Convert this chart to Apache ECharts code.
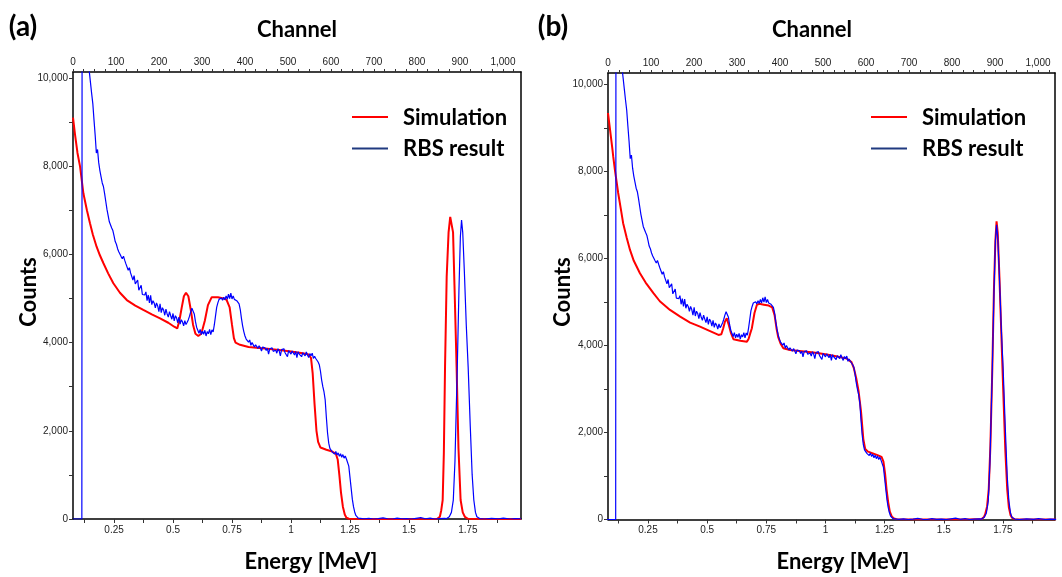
<!DOCTYPE html>
<html><head><meta charset="utf-8">
<script src="https://cdn.jsdelivr.net/npm/echarts@6/dist/echarts.min.js"></script>
<style>html,body{margin:0;padding:0;background:#fff}#c{width:1062px;height:577px}</style>
</head><body><div id="c"></div>
<script>
// ---- data (energy MeV, counts) ----
const simA = [[0.076,9100],[0.085,8700],[0.095,8300],[0.106,7990],[0.12,7385],[0.135,7000],[0.148,6705],[0.16,6450],[0.176,6175],[0.19,5980],[0.205,5800],[0.225,5570],[0.247,5345],[0.275,5130],[0.304,4965],[0.34,4840],[0.374,4740],[0.41,4640],[0.445,4550],[0.48,4450],[0.505,4360],[0.518,4320],[0.527,4500],[0.537,4800],[0.546,5050],[0.555,5130],[0.565,5050],[0.575,4750],[0.585,4400],[0.595,4200],[0.607,4150],[0.62,4200],[0.635,4500],[0.648,4850],[0.664,5030],[0.69,5030],[0.715,5000],[0.727,4970],[0.74,4800],[0.75,4400],[0.758,4100],[0.765,4000],[0.784,3950],[0.82,3900],[0.9,3860],[0.95,3830],[1.0,3800],[1.05,3760],[1.075,3730],[1.085,3650],[1.092,3300],[1.1,2600],[1.108,2000],[1.115,1750],[1.125,1620],[1.15,1570],[1.175,1530],[1.19,1480],[1.198,1350],[1.205,1000],[1.212,600],[1.22,280],[1.228,100],[1.235,30],[1.245,5],[1.4,2],[1.62,5],[1.631,50],[1.637,200],[1.643,430],[1.648,1500],[1.653,3450],[1.66,5500],[1.668,6500],[1.675,6850],[1.681,6860],[1.687,6500],[1.693,5300],[1.702,3450],[1.71,1600],[1.719,430],[1.728,150],[1.737,50],[1.75,5],[1.975,2]];
const simB = [[0.081,9350],[0.09,8950],[0.1,8500],[0.103,8350],[0.11,8050],[0.124,7510],[0.135,7150],[0.145,6815],[0.16,6480],[0.174,6200],[0.19,5950],[0.216,5665],[0.24,5450],[0.273,5205],[0.3,5020],[0.343,4820],[0.386,4667],[0.428,4530],[0.47,4436],[0.51,4340],[0.548,4245],[0.56,4260],[0.568,4400],[0.575,4550],[0.583,4630],[0.59,4500],[0.6,4300],[0.611,4146],[0.64,4110],[0.668,4091],[0.675,4150],[0.682,4280],[0.689,4400],[0.7,4750],[0.71,4935],[0.72,4960],[0.74,4940],[0.76,4920],[0.775,4880],[0.785,4700],[0.793,4400],[0.8,4200],[0.81,4050],[0.822,3940],[0.85,3900],[0.9,3870],[0.95,3840],[1.0,3800],[1.05,3750],[1.09,3700],[1.11,3620],[1.12,3480],[1.13,3250],[1.14,2950],[1.15,2500],[1.16,1850],[1.168,1620],[1.18,1560],[1.2,1520],[1.22,1480],[1.237,1440],[1.245,1330],[1.252,1050],[1.258,700],[1.265,400],[1.272,180],[1.28,70],[1.29,25],[1.3,8],[1.35,2],[1.6,2],[1.66,10],[1.67,60],[1.675,120],[1.683,300],[1.69,700],[1.697,1700],[1.705,3450],[1.712,5300],[1.718,6400],[1.723,6860],[1.728,6600],[1.735,5600],[1.743,4300],[1.751,3000],[1.76,1600],[1.768,700],[1.775,280],[1.782,100],[1.79,30],[1.8,8],[1.975,2]];
const rbs = [[0.076,0],[0.1135,0],[0.1145,11000],[0.140,10400],
[0.145,10150],[0.150,9900],[0.155,9650],[0.160,9420],[0.165,9050],[0.170,8700],[0.175,8300],[0.180,8380],[0.185,8080],[0.190,7900],
[0.195,7760],[0.200,7620],[0.205,7540],[0.210,7380],[0.215,7200],[0.220,7020],[0.225,6880],[0.230,6740],[0.235,6760],[0.240,6600],
[0.245,6540],[0.250,6420],[0.255,6290],[0.260,6230],[0.265,6130],[0.270,6060],[0.275,6100],[0.280,5950],[0.285,5900],[0.290,5960],
[0.295,5870],[0.300,5790],[0.305,5760],[0.310,5640],[0.315,5700],[0.320,5580],[0.325,5610],[0.330,5420],[0.335,5520],[0.340,5330],
[0.345,5340],[0.350,5420],[0.355,5190],[0.360,5230],[0.365,5300],[0.370,5090],[0.375,5130],[0.380,5080],[0.385,5150],[0.390,4950],
[0.395,5080],[0.400,4900],[0.405,5070],[0.410,4860],[0.415,4950],[0.420,4900],[0.425,4790],[0.430,4900],[0.435,4830],[0.440,4700],
[0.445,4880],[0.450,4680],[0.455,4790],[0.460,4740],[0.465,4620],[0.470,4760],[0.475,4650],[0.480,4580],[0.485,4700],[0.490,4610],
[0.495,4530],[0.500,4660],[0.505,4490],[0.510,4610],[0.515,4560],[0.520,4450],[0.525,4580],[0.530,4420],[0.535,4520],[0.540,4470],
[0.545,4380],[0.550,4500],[0.555,4410],[0.560,4460],[0.565,4520],[0.570,4600],[0.575,4700],[0.580,4780],[0.585,4740],[0.590,4650],
[0.595,4480],[0.600,4350],[0.605,4280],[0.610,4210],[0.615,4300],[0.620,4180],[0.625,4260],[0.630,4190],[0.635,4280],[0.640,4150],
[0.645,4250],[0.650,4200],[0.655,4300],[0.660,4180],[0.665,4290],[0.670,4240],[0.675,4400],[0.680,4600],[0.685,4800],[0.690,4900],
[0.695,4980],[0.700,4950],[0.705,5010],[0.710,4960],[0.715,5030],[0.720,4970],[0.725,5060],[0.730,4980],[0.735,5100],[0.740,5000],
[0.745,5120],[0.750,4990],[0.755,5060],[0.760,4980],[0.765,5020],[0.770,4950],[0.775,4980],[0.780,4880],[0.785,4750],[0.790,4550],
[0.795,4380],[0.800,4250],[0.805,4150],[0.810,4080],[0.815,4120],[0.820,4010],[0.825,4060],[0.830,3940],[0.835,4000],[0.840,3960],
[0.845,3900],[0.850,3950],[0.855,3920],[0.860,3870],[0.865,3930],[0.870,3880],[0.875,3810],[0.880,3900],[0.885,3860],[0.890,3880],
[0.895,3820],[0.900,3870],[0.905,3740],[0.910,3860],[0.915,3830],[0.920,3880],[0.925,3800],[0.930,3840],[0.935,3830],[0.940,3760],
[0.945,3860],[0.950,3810],[0.955,3700],[0.960,3840],[0.965,3800],[0.970,3860],[0.975,3770],[0.980,3790],[0.985,3680],[0.990,3820],
[0.995,3790],[1.000,3740],[1.005,3810],[1.010,3780],[1.015,3720],[1.020,3800],[1.025,3660],[1.030,3790],[1.035,3740],[1.040,3760],
[1.045,3680],[1.050,3770],[1.055,3740],[1.060,3700],[1.065,3790],[1.070,3720],[1.075,3660],[1.080,3750],[1.085,3700],[1.090,3760],
[1.095,3640],[1.100,3690],[1.105,3640],[1.110,3660],[1.115,3560],[1.120,3500],[1.125,3350],[1.130,3150],[1.135,3000],[1.140,2880],
[1.145,2700],[1.150,2300],[1.155,1950],[1.160,1720],[1.165,1600],[1.170,1560],[1.175,1520],[1.180,1550],[1.185,1470],[1.190,1530],
[1.195,1450],[1.200,1500],[1.205,1420],[1.210,1480],[1.215,1400],[1.220,1460],[1.225,1380],[1.230,1430],[1.235,1360],[1.240,1320],
[1.245,1200],[1.250,950],[1.255,700],[1.260,450],[1.265,280],[1.270,160],[1.275,80],[1.280,40],[1.285,20],[1.290,10],
[1.31,5],[1.33,15],[1.35,0],[1.37,10],[1.39,25],[1.41,5],[1.43,0],[1.45,20],[1.47,5],[1.49,10],[1.51,0],[1.53,15],[1.55,30],[1.57,5],[1.59,20],[1.61,0],[1.63,10],[1.65,15],
[1.660,10],[1.671,50],[1.680,150],[1.688,430],[1.695,1300],[1.705,3450],[1.712,5200],[1.718,6400],[1.723,6780],[1.728,6500],[1.735,5600],[1.743,4400],[1.751,3450],[1.760,2100],[1.768,1000],[1.775,430],[1.782,150],[1.788,50],[1.800,10],
[1.82,0],[1.85,15],[1.88,5],[1.90,20],[1.93,0],[1.95,10],[1.975,5]];

const energyLabels = [0.25,0.5,0.75,1,1.25,1.5,1.75];
const energyTicks = [0.125,0.25,0.375,0.5,0.625,0.75,0.875,1,1.125,1.25,1.375,1.5,1.625,1.75,1.875];
const channelLabels = [0,100,200,300,400,500,600,700,800,900,1000];
const channelTicks = [0,25,50,75,100,125,150,175,200,225,250,275,300,325,350,375,400,425,450,475,500,525,550,575,600,625,650,675,700,725,750,775,800,825,850,875,900,925,950,975,1000,1025];
const countLabels = [0,2000,4000,6000,8000,10000];
const countTicks = [0,1000,2000,3000,4000,5000,6000,7000,8000,9000,10000];
const seriesNames = ['Simulation','RBS result'];

// ---- layout ----
const panels = [
  {left:73, top:72, w:448, h:447, eMin:0.076, eMax:1.975, cMin:0, cMax:1042, yMax:10136, sim:simA, tag:'(a)', tagX:23, chanX:297, countsX:29, energyX:311, legX:352},
  {left:608, top:73, w:447, h:446.5, eMin:0.081, eMax:1.97, cMin:0, cMax:1039.5, yMax:10270, sim:simB, tag:'(b)', tagX:553, chanX:812, countsX:563, energyX:843, legX:871}
];
const fmtComma = v => Number(v).toLocaleString('en-US');
const tickFont = {fontSize:10, color:'#222', fontFamily:'Liberation Sans, Arial, sans-serif'};
const lineBlack = {color:'#000', width:1.5};

const grid=[], xAxis=[], yAxis=[], series=[], graphic=[];
panels.forEach((p,i)=>{
  grid.push({left:p.left, top:p.top, width:p.w, height:p.h, containLabel:false});
  xAxis.push({gridIndex:i, type:'value', position:'bottom', min:p.eMin, max:p.eMax,
    axisLine:{show:true, onZero:false, lineStyle:lineBlack},
    axisTick:{show:true, customValues:energyTicks, length:4, lineStyle:{color:'#333'}},
    axisLabel:Object.assign({customValues:energyLabels, margin:6, formatter:v=>String(v)}, tickFont),
    splitLine:{show:false}});
  xAxis.push({gridIndex:i, type:'value', position:'top', min:p.cMin, max:p.cMax,
    axisLine:{show:true, onZero:false, lineStyle:lineBlack},
    axisTick:{show:true, customValues:channelTicks, length:3, lineStyle:{color:'#333'}},
    axisLabel:Object.assign({customValues:channelLabels, margin:5, formatter:fmtComma}, tickFont),
    splitLine:{show:false}});
  yAxis.push({gridIndex:i, type:'value', position:'left', min:0, max:p.yMax,
    axisLine:{show:true, onZero:false, lineStyle:lineBlack},
    axisTick:{show:true, customValues:countTicks, length:4, lineStyle:{color:'#333'}},
    axisLabel:Object.assign({customValues:countLabels, margin:5, formatter:fmtComma}, tickFont),
    splitLine:{show:false}});
  yAxis.push({gridIndex:i, type:'value', position:'right', min:0, max:p.yMax,
    axisLine:{show:true, onZero:false, lineStyle:lineBlack},
    axisTick:{show:false}, axisLabel:{show:false}, splitLine:{show:false}});
  series.push({name:seriesNames[0], type:'line', xAxisIndex:2*i, yAxisIndex:2*i, data:p.sim,
    showSymbol:false, symbol:'none', clip:true, lineStyle:{color:'#ff0000', width:2}, itemStyle:{color:'#ff0000'}});
  series.push({name:seriesNames[1], type:'line', xAxisIndex:2*i, yAxisIndex:2*i, data:rbs,
    showSymbol:false, symbol:'none', clip:true, lineStyle:{color:'#0000ff', width:1.2}, itemStyle:{color:'#0000ff'}});

  const big = 'bold 22px Lato, "Open Sans", sans-serif';
  graphic.push({type:'text', x:p.tagX, y:27, style:{text:p.tag, font:'bold 28px Lato, "Open Sans", sans-serif', fill:'#000', align:'center', verticalAlign:'middle'}});
  graphic.push({type:'text', x:p.chanX, y:30, style:{text:'Channel', font:big, fill:'#000', align:'center', verticalAlign:'middle'}});
  graphic.push({type:'text', x:p.countsX, y:292, rotation:Math.PI/2, style:{text:'Counts', font:big, fill:'#000', align:'center', verticalAlign:'middle'}});
  graphic.push({type:'text', x:p.energyX, y:562, style:{text:'Energy [MeV]', font:big, fill:'#000', align:'center', verticalAlign:'middle'}});
  // legend
  graphic.push({type:'line', shape:{x1:p.legX, y1:117, x2:p.legX+36, y2:117}, style:{stroke:'#ff0000', lineWidth:2}});
  graphic.push({type:'line', shape:{x1:p.legX, y1:148.5, x2:p.legX+36, y2:148.5}, style:{stroke:'#203a80', lineWidth:2}});
  graphic.push({type:'text', x:p.legX+51, y:118, style:{text:seriesNames[0], font:big, fill:'#000', align:'left', verticalAlign:'middle'}});
  graphic.push({type:'text', x:p.legX+51, y:149, style:{text:seriesNames[1], font:big, fill:'#000', align:'left', verticalAlign:'middle'}});
});

const chart = echarts.init(document.getElementById('c'), null, {renderer:'canvas'});
chart.setOption({animation:false, backgroundColor:'#fff', grid, xAxis, yAxis, series, graphic});
</script></body></html>
